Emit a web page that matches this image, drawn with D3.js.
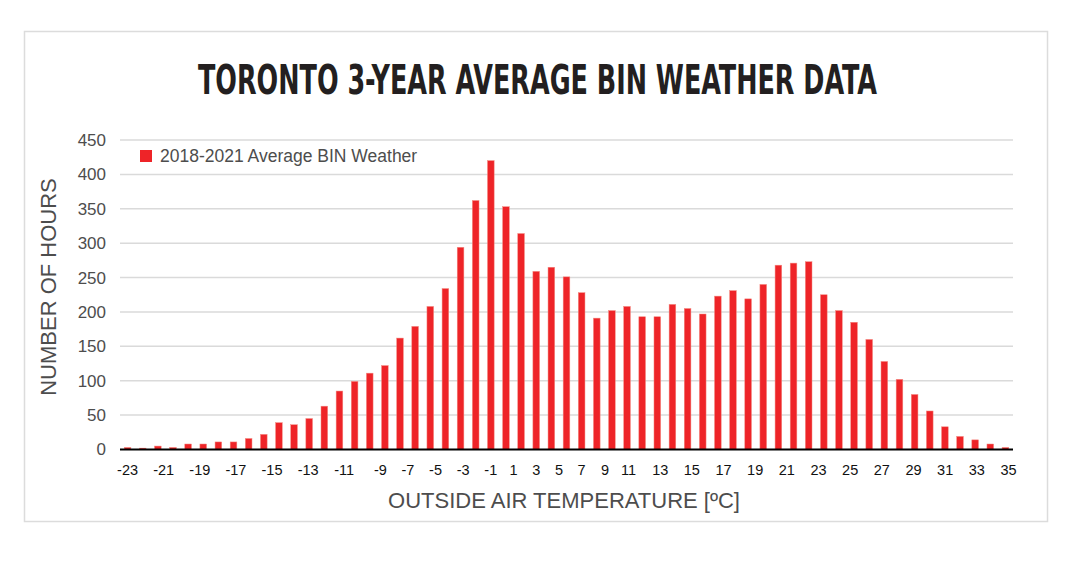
<!DOCTYPE html>
<html>
<head>
<meta charset="utf-8">
<script src="https://cdn.jsdelivr.net/npm/d3@7"></script>
<style>
  body { margin: 0; background: #fff; }
  text { font-family: "Liberation Sans", Arial, Helvetica, sans-serif; }
</style>
</head>
<body>
<div id="grafico"></div>
<script>
// temperature bins (degC), one bar each
const temperaturas = d3.range(-23, 36);
// 2018-2021 average hours per bin
const horas = [3, 2, 5, 3, 8, 8, 11, 11, 16, 22, 39, 36, 45, 63, 85, 99, 111, 122, 162, 179,
  208, 234, 294, 362, 420, 353, 314, 259, 265, 251, 228, 191, 202, 208, 193, 193, 211, 205, 197, 223,
  231, 219, 240, 268, 271, 273, 225, 202, 185, 160, 128, 102, 80, 56, 33, 19, 14, 8, 3];
const rotulosX = d3.range(-23, 36, 2);
const ticksY = d3.range(0, 451, 50);

const W = 1065, H = 561;
const svg = d3.select("#grafico").append("svg")
  .attr("width", W).attr("height", H);

// moldura
svg.append("rect")
  .attr("x", 24.5).attr("y", 31.5).attr("width", 1023).attr("height", 490)
  .attr("fill", "#fff").attr("stroke", "#dcdcdc").attr("stroke-width", 1.5);

// titulo: mede a largura natural e estica na horizontal
const titulo = svg.append("text")
  .attr("x", 0).attr("y", 0)
  .style("font-family", '"Liberation Sans Narrow", "DejaVu Sans Condensed", "Liberation Sans", sans-serif')
  .style("font-stretch", "condensed")
  .style("font-weight", "bold").style("font-size", "41px")
  .attr("fill", "#231f20")
  .text("TORONTO 3-YEAR AVERAGE BIN WEATHER DATA");
const largura = titulo.node().getComputedTextLength();
titulo.attr("transform", `translate(198,94) scale(${679 / largura},1)`);

const x = d3.scaleBand().domain(temperaturas).range([120, 1013])
  .paddingInner(0.56).paddingOuter(0.28);
const y = d3.scaleLinear().domain([0, 450]).range([449.5, 140]);

// grade horizontal
svg.append("g").selectAll("line").data(ticksY.filter(d => d > 0)).join("line")
  .attr("x1", 120).attr("x2", 1013)
  .attr("y1", d => y(d)).attr("y2", d => y(d))
  .attr("stroke", "#dadada").attr("stroke-width", 1.5);

// eixo Y
const eixoY = svg.append("g").attr("transform", "translate(120,0)")
  .call(d3.axisLeft(y).tickValues(ticksY).tickSize(0).tickPadding(14));
eixoY.select(".domain").remove();
eixoY.selectAll("text").style("font-size", "17px").attr("fill", "#4d4d4d")
  .style("font-family", '"Liberation Sans", Arial, sans-serif');

// barras
svg.append("g").selectAll("rect").data(horas).join("rect")
  .attr("x", (d, i) => x(temperaturas[i]))
  .attr("y", d => y(d))
  .attr("width", x.bandwidth())
  .attr("height", d => y(0) - y(d))
  .attr("fill", "#ee2428")
  .attr("stroke", "#f48a80").attr("stroke-width", 0.5);

// linha base
svg.append("line")
  .attr("x1", 120).attr("x2", 1013).attr("y1", y(0)).attr("y2", y(0))
  .attr("stroke", "#000").attr("stroke-width", 2);

// label placement follows the original artwork, which drifts from the bars
const centro = t => x(t) + x.bandwidth() / 2;
const passo = x.step();
const deriva = d3.scaleLinear().domain([-23, -9, -1, 7, 11, 35]).range([-23, -6.3, 1, 7, 10.1, 35.2]);
const xRotulo = d3.scaleLinear().domain([-23, 35]).range([centro(-23), centro(-23) + 58 * passo]);

svg.append("g").selectAll("text").data(rotulosX).join("text")
  .attr("x", d => xRotulo(deriva(d)))
  .attr("y", 475)
  .attr("text-anchor", "middle")
  .style("font-size", "14.5px").attr("fill", "#111")
  .text(d => d);

svg.append("text")
  .attr("transform", "translate(56,287) rotate(-90)")
  .attr("text-anchor", "middle")
  .style("font-size", "22px").attr("fill", "#4d4d4d")
  .text("NUMBER OF HOURS");

svg.append("text")
  .attr("x", 564).attr("y", 508)
  .attr("text-anchor", "middle")
  .style("font-size", "22px").attr("fill", "#4d4d4d")
  .text("OUTSIDE AIR TEMPERATURE [ºC]");

// legenda
svg.append("rect").attr("x", 140).attr("y", 150).attr("width", 12).attr("height", 12).attr("fill", "#ee2428");
svg.append("text").attr("x", 160).attr("y", 162)
  .style("font-size", "17.5px").attr("fill", "#4d4d4d")
  .text("2018-2021 Average BIN Weather");
</script>
</body>
</html>
